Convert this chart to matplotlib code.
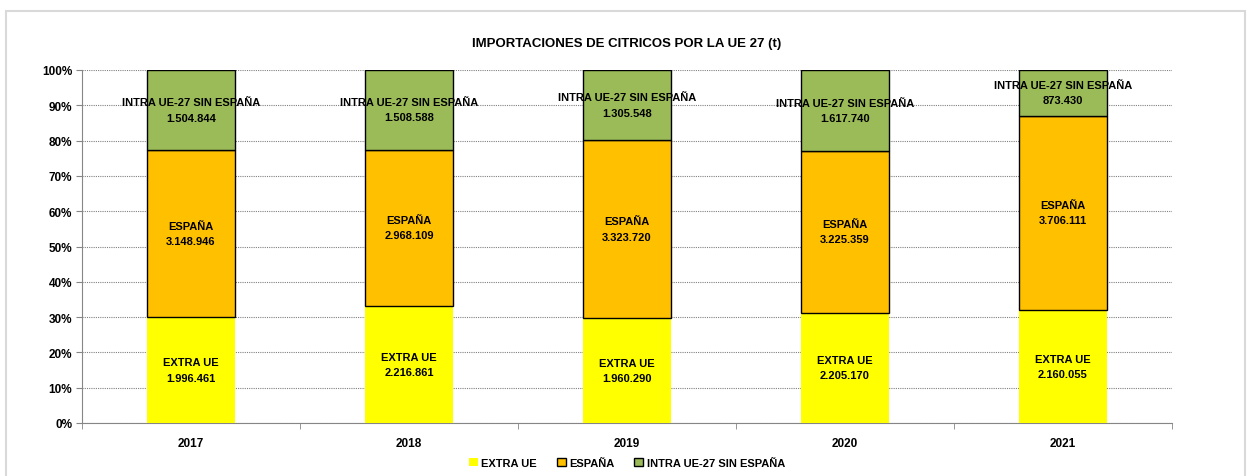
import matplotlib
matplotlib.use("Agg")
import matplotlib.pyplot as plt
from matplotlib.patches import Rectangle
from matplotlib.ticker import PercentFormatter, FixedLocator
import numpy as np

years = ["2017", "2018", "2019", "2020", "2021"]
extra_ue = [1996461, 2216861, 1960290, 2205170, 2160055]
espana = [3148946, 2968109, 3323720, 3225359, 3706111]
intra_ue = [1504844, 1508588, 1305548, 1617740, 873430]

series_names = ["EXTRA UE", "ESPAÑA", "INTRA UE-27 SIN ESPAÑA"]
colors = ["#FFFF00", "#FFC000", "#9BBB59"]
edges = ["none", "black", "black"]

plt.rcParams['font.family'] = ['Liberation Sans', 'DejaVu Sans']
plt.rcParams['font.weight'] = 'bold'

def fmt(v):
    return f"{v:,}".replace(",", ".")

fig = plt.figure(figsize=(12.54, 4.77), dpi=100)
ax = fig.add_axes([82/1254, 1-424/477, (1172-82)/1254, (424-71)/477])

data = np.array([extra_ue, espana, intra_ue], dtype=float)
totals = data.sum(axis=0)
pct = data / totals * 100
x = np.arange(len(years))
bottom = np.zeros(len(years))
handles = []
for i in range(3):
    b = ax.bar(x, pct[i], 0.4, bottom=bottom, color=colors[i],
               edgecolor=edges[i], linewidth=1.0, label=series_names[i], zorder=3)
    handles.append(b)
    for j in range(len(years)):
        cy = bottom[j] + pct[i][j] / 2
        ax.text(x[j], cy, f"{series_names[i]}\n{fmt(int(data[i][j]))}",
                ha="center", va="center", fontsize=8, fontweight="bold",
                linespacing=1.65, zorder=5)
    bottom += pct[i]

ax.set_xlim(-0.5, len(years) - 0.5)
ax.set_ylim(0, 100)
ax.yaxis.set_major_locator(FixedLocator(np.arange(0, 101, 10)))
ax.yaxis.set_major_formatter(PercentFormatter(decimals=0))
ax.set_xticks(x)
ax.set_xticklabels(years)
ax.xaxis.set_minor_locator(FixedLocator(np.arange(-0.5, len(years), 1.0)))
ax.tick_params(axis="x", which="major", length=0, pad=10, labelsize=8.5)
ax.tick_params(axis="x", which="minor", length=4, color="#868686")
ax.tick_params(axis="y", length=4, color="#868686", labelsize=8.5, pad=3)
for lbl in ax.get_xticklabels() + ax.get_yticklabels():
    lbl.set_fontweight("bold")
ax.grid(axis="y", linestyle=(0, (1, 1)), color="#808080", linewidth=0.8, zorder=0)
for s in ["top", "right"]:
    ax.spines[s].set_visible(False)
for s in ["left", "bottom"]:
    ax.spines[s].set_color("#868686")

fig.text(0.5, 1-44/477, "IMPORTACIONES DE CITRICOS POR LA UE 27 (t)",
         ha="center", va="center", fontsize=9.5, fontweight="bold")

leg = fig.legend(handles, series_names, loc="center", bbox_to_anchor=(0.5, 1-464/477),
                 ncol=3, frameon=False, fontsize=8, handlelength=0.8, handleheight=0.8,
                 handletextpad=0.3, columnspacing=1.8)
for t in leg.get_texts():
    t.set_fontweight("bold")

fig.patches.append(Rectangle((6/1254, -0.01), (1245-6)/1254, 1-12/477+0.01,
                             transform=fig.transFigure, fill=False,
                             edgecolor="#D9D9D9", linewidth=1.5))

fig.savefig("out.png", dpi=100)
